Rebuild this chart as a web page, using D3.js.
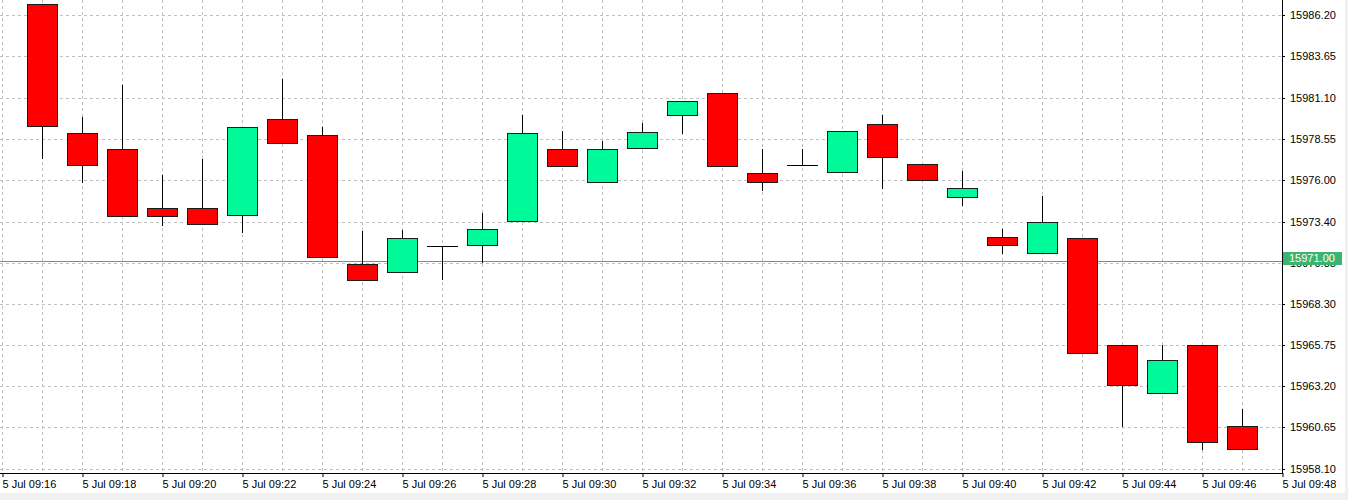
<!DOCTYPE html>
<html><head><meta charset="utf-8">
<script src="https://cdn.jsdelivr.net/npm/d3@7"></script>
<style>html,body{margin:0;padding:0;background:#f0f0f0;overflow:hidden}svg{display:block}</style>
</head><body><svg id="c" width="1348" height="500"></svg>
<script>
// ---- data ----
const times = ["09:17","09:18","09:19","09:20","09:21","09:22","09:23","09:24","09:25","09:26",
  "09:27","09:28","09:29","09:30","09:31","09:32","09:33","09:34","09:35","09:36",
  "09:37","09:38","09:39","09:40","09:41","09:42","09:43","09:44","09:45","09:46","09:47"];
const openP  = [15986.90,15978.92,15977.91,15974.27,15974.27,15973.80,15979.77,15978.76,15970.80,15970.30,
  15971.90,15971.94,15973.47,15977.91,15975.88,15977.97,15980.00,15981.40,15976.42,15976.94,
  15976.50,15979.46,15976.96,15974.95,15972.47,15971.48,15972.39,15965.74,15962.80,15965.74,15960.76];
const highP  = [15986.90,15979.88,15981.88,15976.30,15977.29,15979.29,15982.27,15979.29,15972.83,15972.89,
  15971.90,15973.96,15980.02,15979.03,15978.41,15979.50,15980.91,15981.40,15977.91,15977.91,
  15979.01,15980.02,15976.96,15976.55,15972.97,15975.00,15972.39,15965.74,15965.74,15965.74,15961.81];
const lowP   = [15977.35,15975.87,15973.75,15973.22,15973.24,15972.77,15978.28,15971.23,15969.77,15970.30,
  15969.83,15970.92,15973.47,15976.88,15975.88,15977.97,15978.88,15976.88,15975.39,15976.94,
  15976.50,15975.47,15975.97,15974.46,15971.45,15971.48,15965.26,15960.74,15962.80,15959.29,15959.29];
const closeP = [15979.36,15976.90,15973.78,15973.78,15973.24,15979.29,15978.28,15971.23,15969.77,15972.41,
  15971.90,15972.95,15978.92,15976.88,15977.91,15978.98,15980.91,15976.88,15975.87,15976.94,
  15979.01,15977.43,15975.97,15975.49,15971.94,15973.40,15965.26,15963.26,15964.81,15959.77,15959.29];
const xTickLabels = ["5 Jul 09:16","5 Jul 09:18","5 Jul 09:20","5 Jul 09:22","5 Jul 09:24","5 Jul 09:26",
  "5 Jul 09:28","5 Jul 09:30","5 Jul 09:32","5 Jul 09:34","5 Jul 09:36","5 Jul 09:38","5 Jul 09:40",
  "5 Jul 09:42","5 Jul 09:44","5 Jul 09:46","5 Jul 09:48"];
const gridMinutes = ["09:16","09:17","09:18","09:19","09:20","09:21","09:22","09:23","09:24","09:25","09:26",
  "09:27","09:28","09:29","09:30","09:31","09:32","09:33","09:34","09:35","09:36","09:37","09:38","09:39",
  "09:40","09:41","09:42","09:43","09:44","09:45","09:46","09:47","09:48"];
const yTickLabels = ["15986.20","15983.65","15981.10","15978.55","15976.00","15973.40","15970.85",
  "15968.30","15965.75","15963.20","15960.65","15958.10"];
const bidPrice = 15971.00;

// ---- drawing ----
const svg = d3.select("#c");
const plotRight = 1282, plotBottom = 473;
const font = "'Liberation Sans', Arial, sans-serif";
svg.append("rect").attr("width",1345).attr("height",493).attr("fill","#fff");

const toMin = t => +t.slice(0,2)*60 + +t.slice(3);
const x = d3.scaleLinear().domain([toMin("09:16"), toMin("09:48")]).range([2, 1282]);
const y = d3.scaleLinear().domain([15958.10, 15986.20]).range([468.6, 15.3]);
const cy = v => Math.round(y(v)) + 0.5;
const cx = t => Math.round(x(toMin(t)));

// grid
const grid = svg.append("g").attr("stroke","#c0c0c0").attr("stroke-dasharray","3,3").attr("stroke-width",1);
gridMinutes.forEach(t => grid.append("line").attr("x1",cx(t)+0.5).attr("x2",cx(t)+0.5).attr("y1",0).attr("y2",plotBottom));
yTickLabels.forEach(l => grid.append("line").attr("x1",0).attr("x2",plotRight).attr("y1",cy(+l)).attr("y2",cy(+l)));

// bid line
svg.append("line").attr("x1",0).attr("x2",plotRight).attr("y1",cy(bidPrice)).attr("y2",cy(bidPrice))
  .attr("stroke","#3cb371").attr("stroke-width",1);

// candles
const candles = svg.append("g");
times.forEach((t,i) => {
  const c = cx(t);
  const o = openP[i], h = highP[i], l = lowP[i], cl = closeP[i];
  candles.append("line").attr("x1",c+0.5).attr("x2",c+0.5)
    .attr("y1",Math.round(y(h))).attr("y2",Math.round(y(l))+1)
    .attr("stroke","#000").attr("stroke-width",1);
  if (Math.abs(o-cl) < 0.005) {
    candles.append("line").attr("x1",c-15).attr("x2",c+16).attr("y1",cy(o)).attr("y2",cy(o))
      .attr("stroke","#000").attr("stroke-width",1);
  } else {
    const top = Math.round(y(Math.max(o,cl))), bot = Math.round(y(Math.min(o,cl)));
    candles.append("rect").attr("x",c-14.5).attr("y",top+0.5).attr("width",30).attr("height",bot-top)
      .attr("fill", cl > o ? "#00fa9a" : "#ff0000").attr("stroke","#1a1a1a").attr("stroke-width",1);
  }
});

// axes lines
svg.append("line").attr("x1",plotRight+0.5).attr("x2",plotRight+0.5).attr("y1",0).attr("y2",plotBottom+1)
  .attr("stroke","#000");
svg.append("line").attr("x1",0).attr("x2",plotRight+1).attr("y1",plotBottom+0.5).attr("y2",plotBottom+0.5)
  .attr("stroke","#000");

// x axis
const xAxis = d3.axisBottom(x)
  .tickValues(xTickLabels.map(s => toMin(s.slice(6))))
  .tickFormat((d,i) => xTickLabels[i]).tickSize(4).tickSizeOuter(0);
const gx = svg.append("g").attr("transform",`translate(0.5,${plotBottom})`).call(xAxis);
gx.select(".domain").remove();
gx.selectAll(".tick line").attr("stroke","#000");
gx.selectAll(".tick text").attr("text-anchor","start").attr("dy",null).attr("y",15).attr("x",-0.5)
  .style("font-family",font).style("font-size","11px").attr("fill","#000");

// y axis
const yAxis = d3.axisRight(y).tickValues(yTickLabels.map(Number))
  .tickFormat((d,i) => yTickLabels[i]).tickSize(3).tickSizeOuter(0);
const gy = svg.append("g").attr("transform",`translate(${plotRight},0)`).call(yAxis);
gy.select(".domain").remove();
gy.selectAll(".tick").attr("transform", d => `translate(0,${cy(d)})`);
gy.selectAll(".tick line").attr("stroke","#000");
gy.selectAll(".tick text").attr("x",8).attr("dy","0.35em")
  .style("font-family",font).style("font-size","11px").attr("fill","#000");

// bid label
const by = Math.round(y(bidPrice));
svg.append("rect").attr("x",1283).attr("y",by-9).attr("width",59).attr("height",13).attr("fill","#3cb371");
svg.append("text").attr("x",1289).attr("y",by-2.5).attr("dy","0.35em").text(bidPrice.toFixed(2))
  .style("font-family",font).style("font-size","11px").attr("fill","#fff");
</script></body></html>
